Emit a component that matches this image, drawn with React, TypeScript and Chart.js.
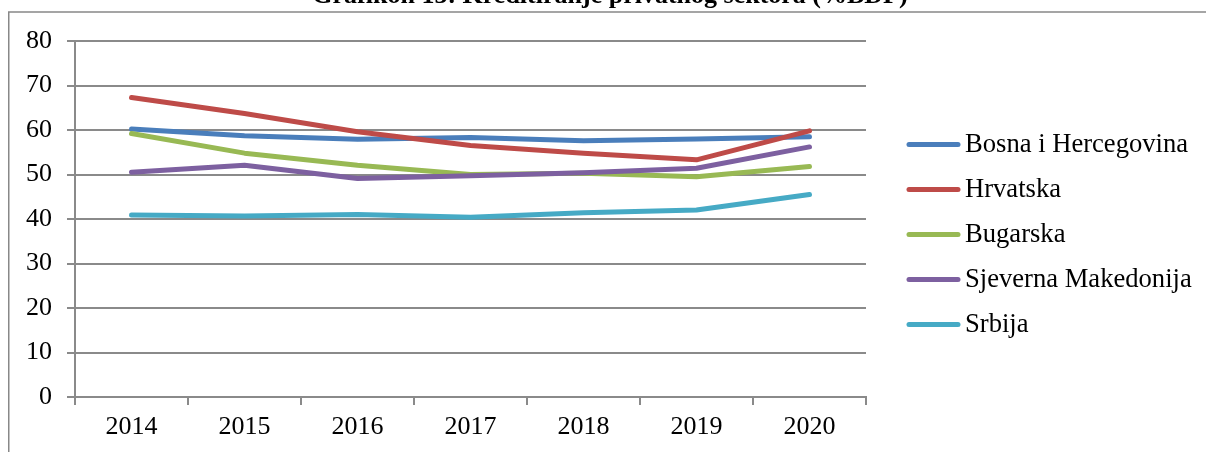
import { useEffect, useRef } from "react";
import { Chart, registerables } from "chart.js";

Chart.register(...registerables);

const categories = ["2014", "2015", "2016", "2017", "2018", "2019", "2020"];
const seriesNames = ["Bosna i Hercegovina", "Hrvatska", "Bugarska", "Sjeverna Makedonija", "Srbija"];
const bosna = [60.2, 58.7, 57.9, 58.3, 57.6, 58.0, 58.5];
const hrvatska = [67.3, 63.7, 59.6, 56.5, 54.8, 53.3, 59.8];
const bugarska = [59.2, 54.8, 52.1, 50.0, 50.3, 49.5, 51.8];
const makedonija = [50.5, 52.1, 49.1, 49.7, 50.4, 51.4, 56.2];
const srbija = [40.9, 40.7, 41.0, 40.4, 41.4, 42.0, 45.5];
const seriesColors = ["#4A7EBB", "#BE4B48", "#98B954", "#7D60A0", "#46AAC5"];
const titleText = "Grafikon 13: Kreditiranje privatnog sektora (%BDP)";
const yMin = 0;
const yMax = 80;
const yStep = 10;

const FONT = '"Liberation Serif", "Times New Roman", serif';
const GRID = "#8A8A8A";

const decorPlugin = {
  id: "decor",
  beforeDraw(chart: any) {
    const ctx = chart.ctx;
    ctx.save();
    ctx.fillStyle = "#ffffff";
    ctx.fillRect(0, 0, chart.width, chart.height);
    ctx.restore();
  },
  afterDraw(chart: any) {
    const ctx = chart.ctx;
    ctx.save();
    // frame
    ctx.strokeStyle = "#888888";
    ctx.lineWidth = 1.5;
    ctx.strokeRect(8.75, 12, 1220, 460);
    // title (cut off at top as in reference)
    ctx.fillStyle = "#000";
    ctx.font = "bold 26px " + FONT;
    ctx.textAlign = "center";
    ctx.textBaseline = "alphabetic";
    ctx.fillText(titleText, 610, 3);
    // legend
    ctx.textAlign = "left";
    ctx.textBaseline = "middle";
    ctx.font = "26.6px " + FONT;
    chart.data.datasets.forEach((ds: any, i: number) => {
      const y = 144.5 + i * 45;
      ctx.strokeStyle = ds.borderColor;
      ctx.lineWidth = 5;
      ctx.lineCap = "round";
      ctx.beginPath();
      ctx.moveTo(909, y);
      ctx.lineTo(958, y);
      ctx.stroke();
      ctx.fillStyle = "#000";
      ctx.fillText(ds.label, 965, y + 1);
    });
    ctx.restore();
  },
};

export default function App() {
  const ref = useRef<HTMLCanvasElement | null>(null);

  useEffect(() => {
    if (!ref.current) return;
    const data = [bosna, hrvatska, bugarska, makedonija, srbija];
    const chart = new Chart(ref.current, {
      type: "line",
      data: {
        labels: categories,
        datasets: data.map((d, i) => ({
          label: seriesNames[i],
          data: d,
          borderColor: seriesColors[i],
          backgroundColor: seriesColors[i],
          borderWidth: 5,
          pointRadius: 0,
          tension: 0,
          borderCapStyle: "round" as const,
          borderJoinStyle: "round" as const,
          order: seriesNames.length - i,
        })),
      },
      options: {
        responsive: false,
        animation: false,
        devicePixelRatio: 1,
        layout: { padding: { top: 41, right: 340, bottom: 0, left: 0 } },
        plugins: {
          legend: { display: false },
          title: { display: false },
          tooltip: { enabled: false },
        },
        scales: {
          x: {
            offset: true,
            grid: {
              offset: true,
              drawOnChartArea: false,
              drawTicks: true,
              tickLength: 8,
              color: GRID,
              lineWidth: 2,
            },
            border: { display: true, color: GRID, width: 2 },
            ticks: {
              color: "#000",
              font: { family: FONT, size: 26 },
              padding: 7,
              maxRotation: 0,
              autoSkip: false,
            },
            afterFit: (scale: any) => {
              scale.height = 55;
            },
          },
          y: {
            min: yMin,
            max: yMax,
            grid: {
              color: GRID,
              lineWidth: 2,
              tickLength: 8,
              drawTicks: true,
            },
            border: { display: true, color: GRID, width: 2 },
            ticks: {
              stepSize: yStep,
              color: "#000",
              font: { family: FONT, size: 26 },
              padding: 15,
            },
            afterFit: (scale: any) => {
              scale.width = 75;
            },
          },
        },
      },
      plugins: [decorPlugin],
    });
    return () => chart.destroy();
  }, []);

  return (
    <div style={{ position: "fixed", left: 0, top: 0, width: 1206, height: 452, background: "#fff" }}>
      <canvas ref={ref} width={1206} height={452} style={{ display: "block" }} />
    </div>
  );
}
